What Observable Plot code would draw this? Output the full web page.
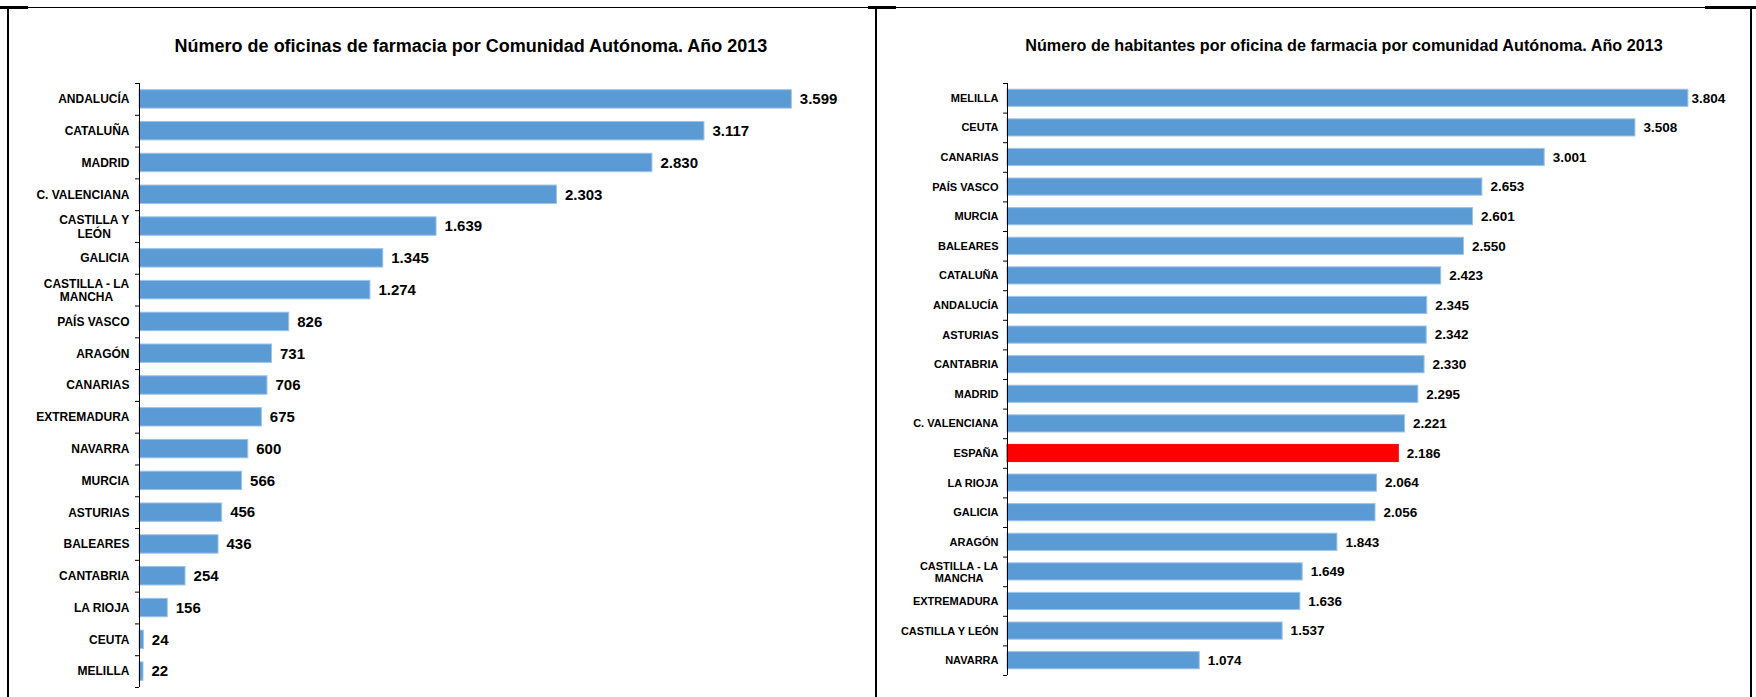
<!DOCTYPE html>
<html>
<head>
<meta charset="utf-8">
<script src="https://cdn.jsdelivr.net/npm/d3@7"></script>
<script src="https://cdn.jsdelivr.net/npm/@observablehq/plot@0.6"></script>
<style>
  html, body { margin: 0; padding: 0; background: #fff; }
  #wrap { position: relative; width: 1756px; height: 697px; overflow: hidden; font-family: "Liberation Sans", Arial, sans-serif; }
  .title { position: absolute; text-align: center; font-weight: bold; color: #000; white-space: nowrap; }
  .chart { position: absolute; top: 0; }
  .line { position: absolute; background: #000; z-index: 5; }
</style>
</head>
<body>
<div id="wrap">
  <div class="title" style="left:71px; width:800px; top:37px; font-size:18px; line-height:18px;">Número de oficinas de farmacia por Comunidad Autónoma. Año 2013</div>
  <div class="title" style="left:944px; width:800px; top:37px; font-size:16.2px; line-height:16px;">Número de habitantes por oficina de farmacia por comunidad Autónoma. Año 2013</div>
  <div class="chart" id="left" style="left:0px;"></div>
  <div class="chart" id="right" style="left:876px;"></div>
  <div class="line" style="left:0; top:7px; width:1756px; height:1px;"></div>
  <div class="line" style="left:0; top:6px; width:28px; height:3px;"></div>
  <div class="line" style="left:868px; top:6px; width:28px; height:3px;"></div>
  <div class="line" style="left:1705px; top:6px; width:51px; height:3px;"></div>
  <div class="line" style="left:7px; top:7px; width:2px; height:690px;"></div>
  <div class="line" style="left:875px; top:7px; width:2px; height:690px;"></div>
  <div class="line" style="left:1750px; top:7px; width:2px; height:690px;"></div>
</div>
<script>
// ---- Data ----
const oficinasRegiones = ["ANDALUCÍA","CATALUÑA","MADRID","C. VALENCIANA","CASTILLA Y\nLEÓN","GALICIA","CASTILLA - LA\nMANCHA","PAÍS VASCO","ARAGÓN","CANARIAS","EXTREMADURA","NAVARRA","MURCIA","ASTURIAS","BALEARES","CANTABRIA","LA RIOJA","CEUTA","MELILLA"];
const oficinasValores = [3599,3117,2830,2303,1639,1345,1274,826,731,706,675,600,566,456,436,254,156,24,22];

const habitantesRegiones = ["MELILLA","CEUTA","CANARIAS","PAÍS VASCO","MURCIA","BALEARES","CATALUÑA","ANDALUCÍA","ASTURIAS","CANTABRIA","MADRID","C. VALENCIANA","ESPAÑA","LA RIOJA","GALICIA","ARAGÓN","CASTILLA - LA\nMANCHA","EXTREMADURA","CASTILLA Y LEÓN","NAVARRA"];
const habitantesValores = [3804,3508,3001,2653,2601,2550,2423,2345,2342,2330,2295,2221,2186,2064,2056,1843,1649,1636,1537,1074];

const destacado = "ESPAÑA";
const xDominio = [0, 4000];

const fmt = d3.formatLocale({decimal: ",", thousands: ".", grouping: [3], currency: ["", "€"]}).format(",d");
const FONT = "'Liberation Sans', Arial, sans-serif";

const ctx = document.createElement("canvas").getContext("2d");
function textWidth(s, size) {
  ctx.font = `bold ${size}px "Liberation Sans", Arial, sans-serif`;
  return ctx.measureText(s).width;
}

function chart({names, values, width, height, mt, mb, ml, mr, labelSize, valueSize, tickPadding, firstDx}) {
  const data = names.map((n, i) => ({name: n, value: values[i], i}));
  const step = (height - mt - mb) / names.length;
  const multi = names.filter(n => n.includes("\n"));
  // multi-line labels: lines centred on each other, block right-aligned next to the axis
  const multiMarks = multi.map(m => {
    const W = Math.max(...m.split("\n").map(l => textWidth(l, labelSize)));
    return Plot.text([m], {
      y: d => d, text: d => d, frameAnchor: "left", textAnchor: "middle",
      dx: -(tickPadding + W / 2), fontSize: labelSize, fontWeight: "bold", fill: "#000", lineHeight: 1.12
    });
  });
  return Plot.plot({
    width, height,
    marginTop: mt, marginBottom: mb, marginLeft: ml, marginRight: mr,
    style: {fontFamily: FONT, background: "transparent", overflow: "visible"},
    x: {domain: xDominio, axis: null},
    y: {domain: names, paddingInner: 0.42, paddingOuter: 0.21, round: false, axis: null},
    color: {type: "identity"},
    marks: [
      Plot.barX(data, {
        x: "value", y: "name",
        fill: d => d.name === destacado ? "#FF0000" : "#5B9BD5",
        stroke: d => d.name === destacado ? "#FF0000" : "#9DC3E6",
        strokeWidth: 1
      }),
      Plot.ruleX([0], {stroke: "#000", strokeWidth: 1}),
      Plot.axisY({ticks: names.filter(n => !n.includes("\n")), tickSize: 0, tickPadding, label: null, fontSize: labelSize, fontWeight: "bold", fill: "#000"}),
      ...multiMarks,
      Plot.axisY({tickSize: 4, tickFormat: () => "", label: null, dy: -step / 2, stroke: "#000"}),
      Plot.axisY({ticks: [names[names.length - 1]], tickSize: 4, tickFormat: () => "", label: null, dy: step / 2, stroke: "#000"}),
      Plot.text(data.filter(d => d.i !== 0), {
        x: "value", y: "name", text: d => fmt(d.value),
        textAnchor: "start", dx: 8, fontSize: valueSize, fontWeight: "bold", fill: "#000"
      }),
      Plot.text(data.filter(d => d.i === 0), {
        x: "value", y: "name", text: d => fmt(d.value),
        textAnchor: "start", dx: firstDx, fontSize: valueSize, fontWeight: "bold", fill: "#000"
      })
    ]
  });
}

document.getElementById("left").append(chart({
  names: oficinasRegiones, values: oficinasValores,
  width: 876, height: 697, mt: 83, mb: 10, ml: 139, mr: 12,
  labelSize: 12, valueSize: 15, tickPadding: 10, firstDx: 8
}));

document.getElementById("right").append(chart({
  names: habitantesRegiones, values: habitantesValores,
  width: 880, height: 697, mt: 83, mb: 22, ml: 131, mr: 33,
  labelSize: 11, valueSize: 13.5, tickPadding: 9, firstDx: 3
}));
</script>
</body>
</html>
